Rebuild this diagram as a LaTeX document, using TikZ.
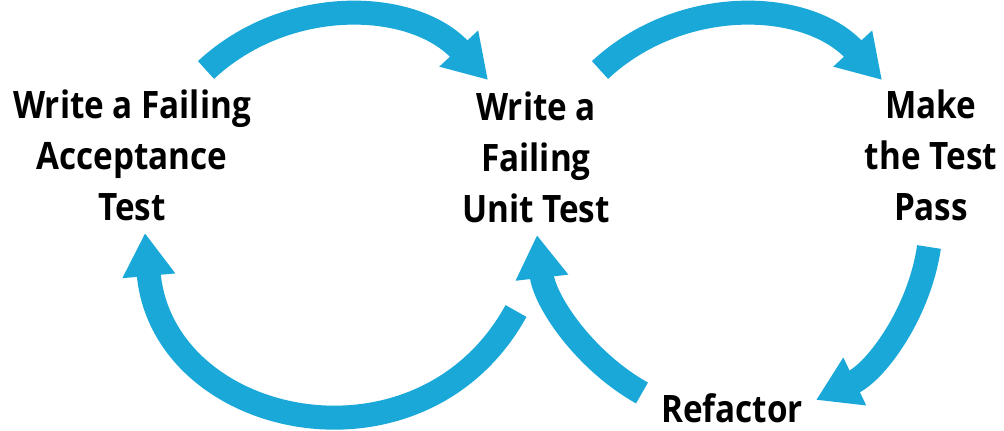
\documentclass[tikz,border=0pt]{standalone}
\usepackage{fontspec}
\newfontfamily\stagefont{Open Sans}[FakeStretch=0.88]
\usetikzlibrary{arrows.meta}
\definecolor{loopblue}{RGB}{26,168,217}

\begin{document}
\begin{tikzpicture}[x=0.02cm, y=0.02cm,
    stage/.style={font=\stagefont\bfseries\fontsize{21.5}{29}\selectfont, align=center, inner sep=0pt},
    flow/.style={draw=loopblue, line width=0.48cm, -{Triangle[width=1.0cm,length=0.86cm]}}]
    \useasboundingbox (0,0) rectangle (1004,-431);
    \node[stage] (Acceptance) at (132,-155) {Write a Failing\\Acceptance\\Test};
    \node[stage] (UnitTest) at (536,-157) {Write a\\Failing\\Unit Test};
    \node[stage] (Pass) at (931,-155) {Make\\the Test\\Pass};
    \node[stage] (Refactor) at (732,-408) {Refactor};
    % ends of the loop arrows
    \coordinate (AccOut) at (206,-70);
    \coordinate (UnitIn) at (488,-80);
    \coordinate (UnitOut) at (600,-70);
    \coordinate (PassIn) at (882,-80);
    \coordinate (PassOut) at (929,-247);
    \coordinate (RefIn) at (816,-400);
    \coordinate (RefOut) at (642,-393);
    \coordinate (UnitBack) at (537,-235);
    \coordinate (UnitDone) at (516,-311);
    \coordinate (AccBack) at (145,-233);
    \draw[flow] (AccOut) to[bend left=45] (UnitIn);
    \draw[flow] (UnitOut) to[bend left=45] (PassIn);
    \draw[flow] (PassOut) to[bend left=28, looseness=0.9] (RefIn);
    \draw[flow] (RefOut) to[bend left=27, looseness=0.9] (UnitBack);
    \draw[flow] (UnitDone) to[bend left=73, looseness=1.33] (AccBack);
\end{tikzpicture}
\end{document}
